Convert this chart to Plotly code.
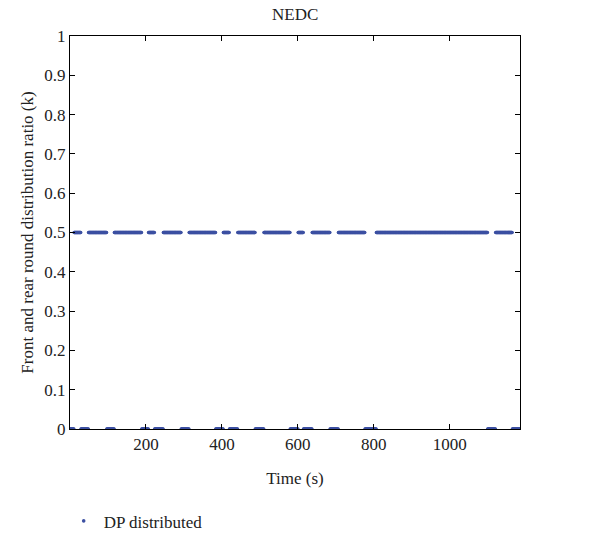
import numpy as np
import plotly.graph_objects as go

# Time axis of the NEDC cycle (s)
time_s = list(range(0, 1186))

# Periods (s) where the distribution ratio k drops to 0
zero_starts = [0, 29, 97, 189, 223, 293, 384, 420, 488, 580, 615, 685, 777, 1100, 1165]
zero_ends   = [10, 48, 116, 206, 245, 313, 403, 441, 510, 600, 637, 706, 806, 1120, 1185]

# Ratio level outside those periods
k_level = 0.5

k_values = []
for t in time_s:
    v = k_level
    for a, b in zip(zero_starts, zero_ends):
        if a <= t <= b:
            v = 0.0
            break
    k_values.append(v)

x_ticks = [200, 400, 600, 800, 1000]
y_ticks = [0, 0.1, 0.2, 0.3, 0.4, 0.5, 0.6, 0.7, 0.8, 0.9, 1]
y_ticktext = ["0", "0.1", "0.2", "0.3", "0.4", "0.5", "0.6", "0.7", "0.8", "0.9", "1"]

font_family = "Liberation Serif"
fs = 17
blue = "#3c50a2"

fig = go.Figure()
fig.add_trace(go.Scatter(
    x=time_s, y=k_values, mode="markers", name="DP distributed",
    marker=dict(size=3.6, color=blue, line=dict(width=0)),
))

axis_common = dict(
    showline=True, linecolor="black", linewidth=1, mirror="ticks",
    ticks="inside", ticklen=5, tickcolor="black", tickwidth=1,
    showgrid=False, zeroline=False,
    tickfont=dict(family=font_family, size=fs, color="#222"),
)

fig.update_layout(
    width=611, height=551,
    margin=dict(l=70, r=91, t=36, b=107),
    paper_bgcolor="white", plot_bgcolor="white",
    font=dict(family=font_family, size=fs, color="#222"),
    title=dict(text="NEDC", x=0.483, xanchor="center", y=0.975, yanchor="middle",
               font=dict(family=font_family, size=fs, color="#222")),
    xaxis=dict(range=[0, 1185], tickvals=x_ticks,
               title=dict(text="Time (s)", standoff=18,
                          font=dict(family=font_family, size=fs, color="#222")),
               **axis_common),
    yaxis=dict(range=[0, 1], tickvals=y_ticks, ticktext=y_ticktext,
               title=dict(text="Front and rear round distribution ratio (k)", standoff=6,
                          font=dict(family=font_family, size=fs, color="#222")),
               **axis_common),
    showlegend=True,
    legend=dict(x=-0.014, xanchor="left", y=-0.235, yanchor="middle",
                orientation="h", itemwidth=30, bgcolor="rgba(0,0,0,0)",
                font=dict(family=font_family, size=fs, color="#222")),
)

fig.write_html("out.html")
